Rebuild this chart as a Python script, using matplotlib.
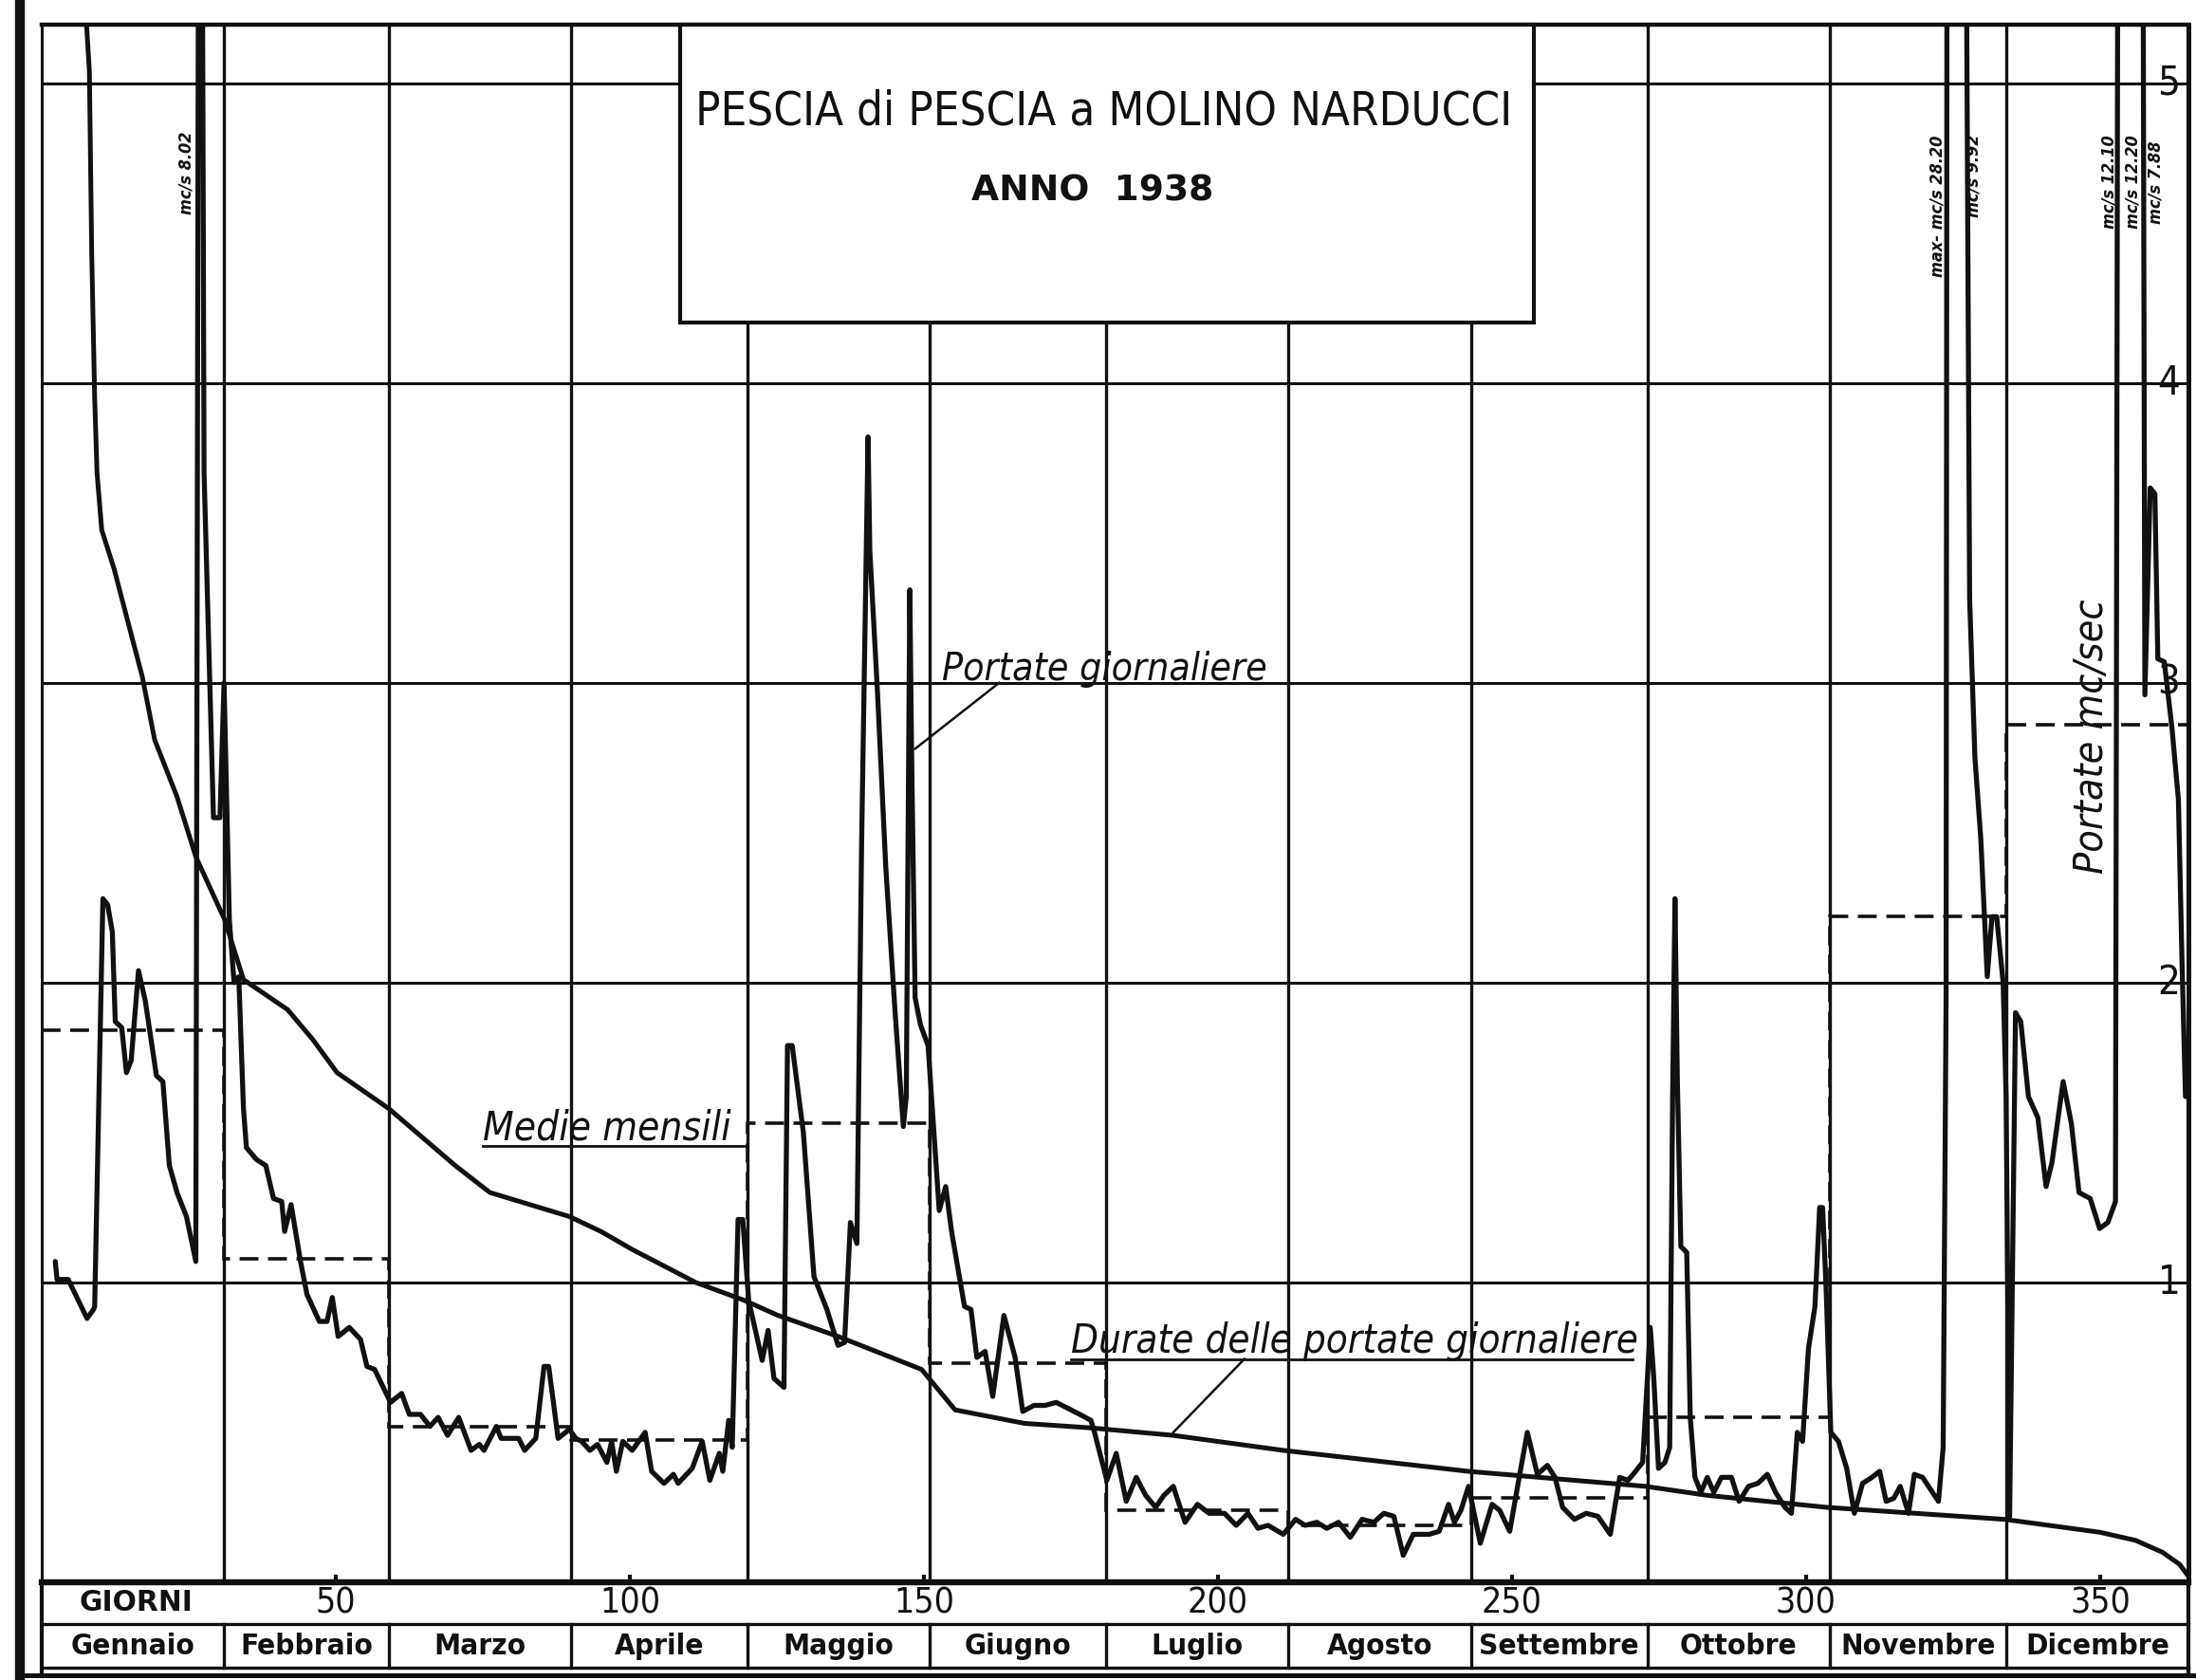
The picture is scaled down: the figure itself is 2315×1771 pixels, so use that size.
"""
Pescia di Pescia a Molino Narducci - portate giornaliere, medie mensili
e curva di durata, anno 1938
"""

import matplotlib
matplotlib.use("Agg")
import matplotlib.pyplot as plt
import matplotlib.transforms as mtransforms
from matplotlib.lines import Line2D
from matplotlib.patches import Rectangle
from matplotlib import font_manager


# --- dati -------------------------------------------------------------------
month_edges = [0, 31, 59, 90, 120, 151, 181, 212, 243, 273, 304, 334, 365]
month_names = ["Gennaio", "Febbraio", "Marzo", "Aprile", "Maggio", "Giugno",
               "Luglio", "Agosto", "Settembre", "Ottobre", "Novembre", "Dicembre"]
monthly_means = [1.84, 1.08, 0.52, 0.475, 1.53, 0.73,
                 0.24, 0.19, 0.28, 0.55, 2.22, 2.86]

day_ticks = [50, 100, 150, 200, 250, 300, 350]
q_ticks = [1, 2, 3, 4, 5]

# portate giornaliere (giorno, mc/s)
daily_day = [
    2.3, 2.6, 4.5, 7.7, 8.8, 9.0, 10.4, 11.2, 12.0, 12.5, 13.6, 14.4, 15.2,
    16.45, 17.6, 19.5, 20.6, 21.7, 23.0, 24.6, 26.2, 26.9, 27.6, 29.2, 30.3,
    31.0, 31.9, 32.7, 33.5, 34.3, 34.8, 36.5, 38.1, 39.4, 40.8, 41.3, 42.4,
    44.0, 45.1, 47.2, 48.5, 49.4, 50.4, 52.3, 54.2, 55.3, 56.6, 59.3,
    61.2, 62.5, 64.4, 66.0, 67.4, 69.0, 70.9, 73.0, 74.4, 75.2, 77.3, 78.1,
    81.1, 82.1, 84.0, 85.4, 86.2, 87.8, 89.7, 90.8, 91.8, 93.2, 94.5, 96.1,
    96.9, 97.7, 98.8, 100.4, 102.6, 103.7, 105.8, 107.4, 108.2, 110.6, 112.3,
    113.6, 115.2, 115.8, 116.8, 117.4, 118.4, 119.2,
    120.2, 122.5, 123.5, 124.5, 126.2, 126.8, 127.6, 129.5, 131.3, 133.5,
    135.4, 136.5, 137.5, 138.6, 139.4, 140.5, 140.8, 142.1, 143.5, 145.1,
    146.5, 147.0, 147.6, 147.9, 148.5, 149.4, 150.7, 152.6, 153.7, 154.7,
    156.9, 158.0, 159.0, 160.4, 161.7, 163.6, 165.5, 166.8, 168.7, 170.6,
    172.5, 174.5, 176.5,
    178.4, 179.0, 181.1, 182.7, 184.4, 186.1, 187.7, 189.4, 190.8, 192.4,
    194.4, 196.5, 198.5, 201.1, 203.1, 205.1, 206.8, 208.5, 211.1, 213.2,
    214.8, 216.8, 218.5, 220.5, 222.5, 224.5, 226.5, 228.2, 229.9, 231.5,
    233.2, 235.9, 237.6, 239.2, 240.2, 241.3, 242.6, 244.6, 246.6, 247.9,
    249.6, 251.3, 252.6, 254.3, 256.0, 257.3, 258.6, 260.6, 262.6, 264.6,
    266.7, 268.3, 269.7, 271.0, 272.2,
    273.0, 273.5, 274.1, 274.9, 276.0, 276.8, 277.3, 277.7, 278.1, 278.7,
    279.7, 280.3, 281.1, 282.1, 283.2, 284.3, 285.6, 287.3, 288.6, 290.2,
    291.8, 293.4, 294.8, 296.4, 297.5, 298.5, 299.4, 300.4, 301.5, 302.3,
    302.8, 303.4, 304.2, 305.5, 306.9, 308.2, 309.6, 311.2, 312.5, 313.6,
    314.9, 316.0, 317.4, 318.4, 319.8, 322.5, 323.3, 323.8, 324.9, 326.1,
    327.8, 328.7, 329.7, 330.8, 331.6, 332.4, 333.5, 334.0, 334.6,
    335.6, 336.5, 337.8, 339.4, 340.8, 341.8, 343.7, 345.1, 346.4, 348.3,
    349.9, 351.3, 352.6, 353.6, 355.4, 357.0, 357.6, 358.5, 359.3, 359.8,
    360.9, 362.2, 363.3, 363.9, 364.5,
]
daily_q = [
    1.07, 1.01, 1.01, 0.88, 0.91, 0.92, 2.28, 2.26, 2.17, 1.87, 1.85, 1.70, 1.74,
    2.04, 1.94, 1.69, 1.67, 1.39, 1.30, 1.22, 1.07, 8.02, 3.70, 2.55, 2.55,
    3.00, 2.21, 2.00, 2.02, 1.58, 1.45, 1.41, 1.39, 1.28, 1.27, 1.17, 1.26,
    1.07, 0.96, 0.87, 0.87, 0.95, 0.82, 0.85, 0.81, 0.72, 0.71, 0.60,
    0.63, 0.56, 0.56, 0.52, 0.55, 0.49, 0.55, 0.44, 0.46, 0.44, 0.52, 0.48,
    0.48, 0.44, 0.48, 0.72, 0.72, 0.48, 0.51, 0.48, 0.47, 0.44, 0.46, 0.40,
    0.47, 0.37, 0.47, 0.44, 0.50, 0.37, 0.33, 0.36, 0.33, 0.38, 0.47,
    0.34, 0.43, 0.37, 0.54, 0.45, 1.21, 1.21,
    0.94, 0.74, 0.84, 0.68, 0.65, 1.79, 1.79, 1.50, 1.02, 0.91,
    0.79, 0.80, 1.20, 1.13, 2.46, 3.82, 3.44, 2.97, 2.39, 1.90,
    1.52, 1.62, 3.31, 2.77, 1.95, 1.86, 1.79, 1.24, 1.32, 1.17,
    0.92, 0.91, 0.75, 0.77, 0.62, 0.89, 0.75, 0.57, 0.59, 0.59,
    0.60, 0.58, 0.56,
    0.54, 0.50, 0.34, 0.43, 0.27, 0.35, 0.29, 0.25, 0.29, 0.32,
    0.20, 0.26, 0.23, 0.23, 0.19, 0.23, 0.18, 0.19, 0.16, 0.21,
    0.19, 0.20, 0.18, 0.20, 0.15, 0.21, 0.20, 0.23, 0.22, 0.09,
    0.16, 0.16, 0.17, 0.26, 0.20, 0.24, 0.32, 0.13, 0.26, 0.24,
    0.17, 0.36, 0.50, 0.36, 0.39, 0.35, 0.25, 0.21, 0.23, 0.22,
    0.16, 0.35, 0.34, 0.37, 0.40,
    0.68, 0.85, 0.68, 0.38, 0.40, 0.45, 1.62, 2.28, 1.68, 1.12,
    1.10, 0.55, 0.35, 0.30, 0.35, 0.30, 0.35, 0.35, 0.27, 0.32,
    0.33, 0.36, 0.30, 0.25, 0.23, 0.50, 0.47, 0.78, 0.92, 1.25,
    1.25, 0.98, 0.50, 0.47, 0.38, 0.23, 0.33, 0.35, 0.37, 0.27,
    0.28, 0.32, 0.23, 0.36, 0.35, 0.27, 0.45, 1.95, 28.20, 9.92,
    3.28, 2.75, 2.48, 2.02, 2.22, 2.22, 2.00, 1.62, 0.22,
    1.90, 1.87, 1.62, 1.55, 1.32, 1.40, 1.67, 1.53, 1.30, 1.28,
    1.18, 1.20, 1.27, 12.10, 12.20, 7.88, 2.96, 3.65, 3.63, 3.08,
    3.07, 2.85, 2.61, 2.08, 1.62,
]

# curva delle durate (giorni di superamento, mc/s)
duration_day = [7.6, 8.1, 8.5, 9.0, 9.4, 10.2, 12.3, 17.1, 19.2, 23.0, 26.2,
                31.1, 34.3, 41.8, 46.1, 50.2, 59.0, 70.3, 76.2, 89.7, 95.1,
                100.4, 111.2, 119.5, 125.2, 135.4, 149.6, 155.3, 167.1, 178.4,
                192.4, 211.1, 242.6, 272.7, 283.2, 303.5, 333.7, 349.9, 356.0,
                360.6, 363.5, 365.0]
duration_q = [5.20, 5.04, 4.43, 3.95, 3.70, 3.51, 3.38, 3.02, 2.81, 2.62, 2.42,
              2.21, 2.01, 1.91, 1.81, 1.70, 1.58, 1.39, 1.30, 1.22, 1.17,
              1.11, 1.00, 0.94, 0.89, 0.82, 0.71, 0.575, 0.53, 0.515,
              0.49, 0.44, 0.37, 0.32, 0.29, 0.25, 0.21, 0.167, 0.14,
              0.10, 0.06, 0.02]

# massimi fuori scala
peak_text = ["mc/s 8.02", "max- mc/s 28.20", "mc/s 9.92",
             "mc/s 12.10", "mc/s 12.20", "mc/s 7.88"]
peak_text_day = [24.6, 322.3, 328.4, 351.6, 355.5, 359.4]
peak_text_q = [4.70, 4.59, 4.69, 4.67, 4.67, 4.67]


# --- font -------------------------------------------------------------------
_fonts = font_manager.fontManager.ttflist
if any(f.name == "Liberation Sans Narrow" for f in _fonts):
    NARROW = {"family": "Liberation Sans Narrow"}
elif any(f.name == "DejaVu Sans" and f.stretch == "condensed" for f in _fonts):
    NARROW = {"family": "DejaVu Sans", "stretch": "condensed"}
else:
    NARROW = {"family": "DejaVu Sans"}

W, H = 2315, 1771
INK = "#111111"


def fit_width(txt, width_px, renderer, vertical=False):
    """Scale the font so the text spans width_px pixels."""
    bb = txt.get_window_extent(renderer)
    size = bb.height if vertical else bb.width
    txt.set_fontsize(txt.get_fontsize() * width_px / size)
    return txt.get_fontsize()


fig = plt.figure(figsize=(W / 100, H / 100), dpi=100)
fig.patch.set_facecolor("white")
x0, x1, y0, y1 = 44, 2307, 1668, 26
ax = fig.add_axes([x0 / W, 1 - y0 / H, (x1 - x0) / W, (y0 - y1) / H])
ax.set_xlim(0, 365)
ax.set_ylim(0, 5.195)

for side, lw in [("left", 2.2), ("right", 3.6), ("top", 3.2), ("bottom", 4.6)]:
    ax.spines[side].set_linewidth(lw)
    ax.spines[side].set_color(INK)

ax.set_xticks(day_ticks)
ax.set_yticks([])
ax.tick_params(axis="x", direction="in", length=6, width=3, color=INK,
               labelbottom=False)

# reticolo: confini dei mesi e portate intere
for d in month_edges[1:-1]:
    ax.axvline(d, color=INK, lw=2.4, zorder=1)
for q in q_ticks:
    ax.axhline(q, color=INK, lw=2.2, zorder=1)

# serie
ax.stairs(monthly_means, month_edges, baseline=None, color=INK, lw=2.6,
          linestyle=(0, (5.5, 2.8)), zorder=2)
ax.plot(duration_day, duration_q, color=INK, lw=3.6, zorder=3,
        solid_joinstyle="round", solid_capstyle="round")
ax.plot(daily_day, daily_q, color=INK, lw=3.8, zorder=3,
        solid_joinstyle="round", solid_capstyle="round")

# riquadro del titolo
ax.add_patch(Rectangle((108.5, 4.203), 253.7 - 108.5, 5.195 - 4.203,
                       facecolor="white", edgecolor=INK, lw=3.0, zorder=6,
                       clip_on=False))

renderer = fig.canvas.get_renderer()

title = ax.text(180.6, 4.905, "PESCIA di PESCIA a MOLINO NARDUCCI",
                ha="center", va="center", fontsize=40, color=INK, zorder=7,
                **NARROW)
fit_width(title, 860, renderer)
sub = ax.text(178.7, 4.64, "ANNO  1938", ha="center", va="center",
              fontsize=24, fontweight="bold", color=INK, zorder=7,
              family="DejaVu Sans")
fit_width(sub, 256, renderer)

# etichette delle serie
lab1 = ax.text(153, 3.01, "Portate giornaliere", ha="left", va="baseline",
               fontsize=24, style="italic", color=INK, zorder=5, **NARROW)
fit_width(lab1, 343, renderer)
ax.plot([162.8, 148.5], [3.0, 2.78], color=INK, lw=1.8, zorder=5)

lab2 = ax.text(75, 1.475, "Medie mensili", ha="left", va="baseline",
               fontsize=24, style="italic", color=INK, zorder=5, **NARROW)
fit_width(lab2, 262, renderer)
ax.plot([75, 120], [1.455, 1.455], color=INK, lw=2.0, zorder=5)

lab3 = ax.text(175, 0.765, "Durate delle portate giornaliere", ha="left",
               va="baseline", fontsize=24, style="italic", color=INK,
               zorder=5, **NARROW)
fit_width(lab3, 598, renderer)
ax.plot([175, 270.5], [0.745, 0.745], color=INK, lw=2.0, zorder=5)
ax.plot([204.5, 192.4], [0.745, 0.50], color=INK, lw=1.8, zorder=5)

ylab = ax.text(348.5, 2.82, "Portate mc/sec", rotation=90, ha="center",
               va="center", fontsize=24, style="italic", color=INK, zorder=5,
               **NARROW)
fit_width(ylab, 290, renderer, vertical=True)

for txt, d, q in zip(peak_text, peak_text_day, peak_text_q):
    ax.text(d, q, txt, rotation=90, ha="center", va="center", fontsize=13,
            style="italic", fontweight="bold", color=INK, zorder=5, **NARROW)

# valori della scala delle portate, a destra
for q in q_ticks:
    ax.text(363.6, q, str(q), ha="right", va="center", fontsize=30,
            color=INK, zorder=5, **NARROW)

# righe sotto il grafico: giorni e mesi
tr = mtransforms.blended_transform_factory(ax.transData, ax.transAxes)
row1 = -(1712 - y0) / (y0 - y1)
row2 = -(1758 - y0) / (y0 - y1)
row3 = -(1766 - y0) / (y0 - y1)

giorni = ax.text(16, row1 / 2, "GIORNI", ha="center", va="center",
                 fontsize=16, fontweight="bold", color=INK, transform=tr,
                 clip_on=False, family="DejaVu Sans")
fit_width(giorni, 119, renderer)

tick_txt = []
for d in day_ticks:
    tick_txt.append(ax.text(d, row1 / 2, str(d), ha="center", va="center",
                            fontsize=26, color=INK, transform=tr,
                            clip_on=False, **NARROW))
size = fit_width(tick_txt[-1], 64, renderer)
for t in tick_txt:
    t.set_fontsize(size)

mid = [(a + b) / 2 for a, b in zip(month_edges[:-1], month_edges[1:])]
month_txt = []
for d, name in zip(mid, month_names):
    month_txt.append(ax.text(d, (row1 + row2) / 2, name, ha="center",
                             va="center", fontsize=24, fontweight="bold",
                             color=INK, transform=tr, clip_on=False,
                             **NARROW))
size = fit_width(month_txt[8], 168, renderer)
for t in month_txt:
    t.set_fontsize(size)

for yy, lw in [(row1, 2.4), (row2, 2.4), (row3, 3.6)]:
    ax.plot([0, 365], [yy, yy], color=INK, lw=lw, transform=tr,
            clip_on=False)
for d in month_edges:
    lo = row3 if d in (0, 365) else row2
    top = 0 if d in (0, 365) else row1
    ax.plot([d, d], [top, lo], color=INK, lw=2.4 if 0 < d < 365 else 3.0,
            transform=tr, clip_on=False)

# cornice esterna
fig.add_artist(Line2D([21 / W, 21 / W], [0, 1], color=INK, lw=7.5,
                      transform=fig.transFigure))
fig.add_artist(Line2D([21 / W, 1], [1 - 1766 / H, 1 - 1766 / H], color=INK,
                      lw=3.6, transform=fig.transFigure))

fig.savefig("out.png", dpi=100, facecolor="white")
